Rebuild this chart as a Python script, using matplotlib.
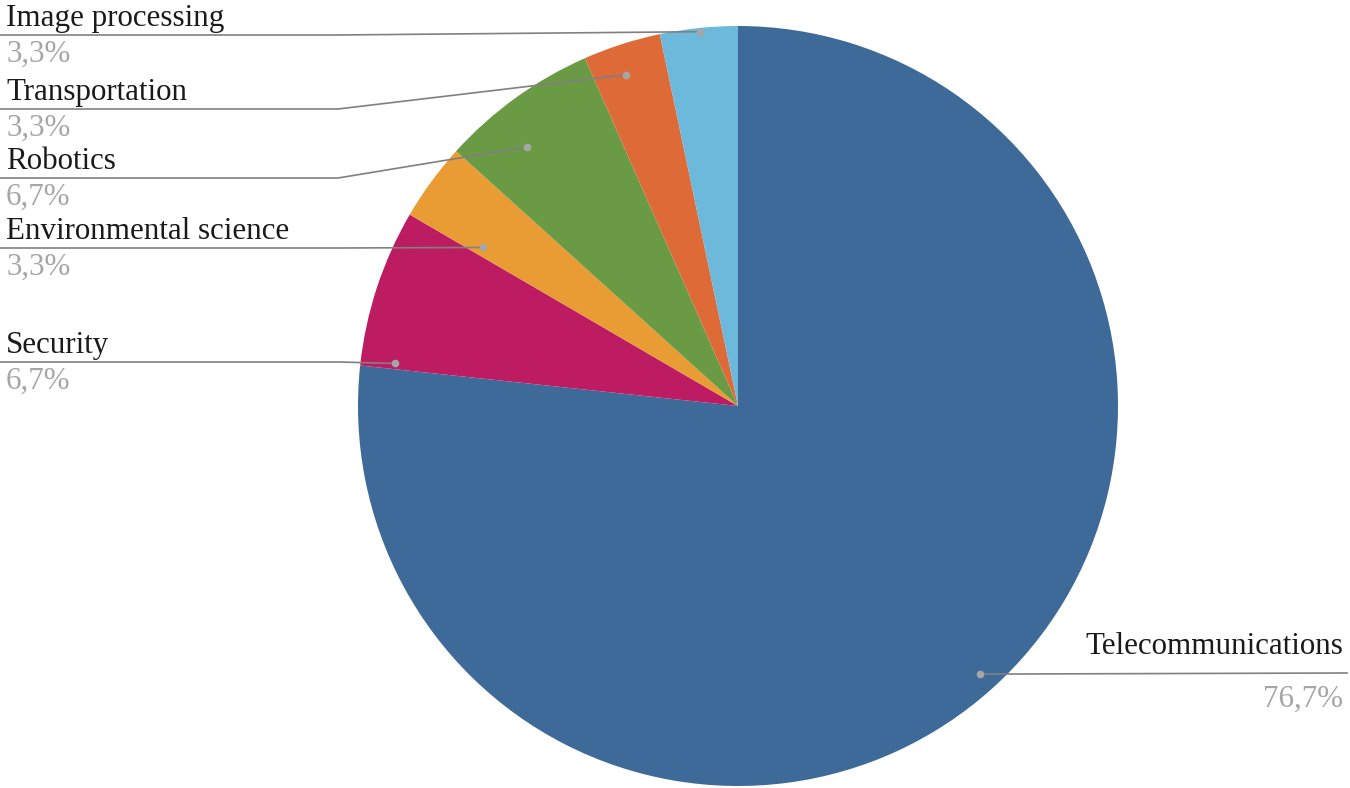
import numpy as np
import matplotlib
matplotlib.use("Agg")
import matplotlib.pyplot as plt

# data (clockwise from 12 o'clock)
categories = ["Telecommunications", "Security", "Environmental science",
              "Robotics", "Transportation", "Image processing"]
shares = [76.7, 6.7, 3.3, 6.7, 3.3, 3.3]
pct_labels = ["76,7%", "6,7%", "3,3%", "6,7%", "3,3%", "3,3%"]

colors = ["#3D6A98", "#BD1C63", "#E89C33", "#6B9A45", "#DE6A38", "#6DB9DC"]

plt.rcParams["font.family"] = ["Liberation Serif", "DejaVu Serif"]

W, H = 1350, 788
fig = plt.figure(figsize=(W / 100, H / 100), dpi=100)
ax = fig.add_axes([0, 0, 1, 1])

cx, cy, R = 738, H - 406, 380
wedges, _ = ax.pie(shares, colors=colors, startangle=90, counterclock=False,
                   center=(cx, cy), radius=R,
                   wedgeprops=dict(linewidth=0))
ax.set_xlim(0, W)
ax.set_ylim(0, H)
ax.set_aspect("equal")
ax.axis("off")

fs = 22.3
line_c = "#808080"
dot_c = "#A6A6A6"

# label line heights (px from top), leader dot radial fraction + angle nudge
line_y = [673, 362, 248, 178, 109, 35]
dot_r = [0.95, 0.91, 0.79, 0.88, 0.92, 0.99]
dot_da = [0.1, 11.1, 4.3, 3.4, 0.8, -0.2]
elbow_x = 338

for w, name, pct, ly, dr, da in zip(wedges, categories, pct_labels,
                                    line_y, dot_r, dot_da):
    ang = np.deg2rad((w.theta1 + w.theta2) / 2 + da)
    dx, dy = cx + dr * R * np.cos(ang), cy + dr * R * np.sin(ang)
    ly = H - ly
    if dx > cx:
        ax.plot([dx, W - 3], [dy, ly], color=line_c, lw=1.2, zorder=3)
        ax.text(W - 7, ly + 19, name, ha="right", va="baseline",
                fontsize=fs, color="#1a1a1a")
        ax.text(W - 7, ly - 34, pct, ha="right", va="baseline",
                fontsize=fs, color="#A6A6A6")
    else:
        ax.plot([dx, elbow_x, 0], [dy, ly, ly], color=line_c, lw=1.2, zorder=3)
        ax.text(6, ly + 9, name, ha="left", va="baseline",
                fontsize=fs, color="#1a1a1a")
        ax.text(6, ly - 27, pct, ha="left", va="baseline",
                fontsize=fs, color="#A6A6A6")
    ax.plot([dx], [dy], "o", ms=4.5, color=dot_c, zorder=4)

fig.savefig("out.png", dpi=100)
